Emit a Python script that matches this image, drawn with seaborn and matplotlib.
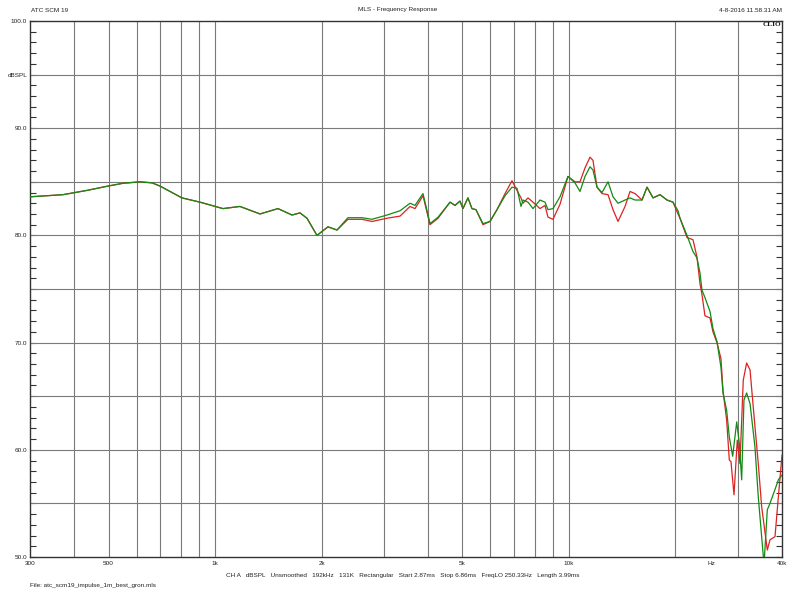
import matplotlib
matplotlib.use('Agg')
import matplotlib.pyplot as plt
import numpy as np
import seaborn as sns
from matplotlib.ticker import FixedLocator, NullLocator

# red trace (Hz, dBSPL)
freq_red = [300, 372, 435, 498, 549, 614, 664, 699, 746, 806, 907, 1053, 1176, 1340, 1506, 1650,
            1738, 1819, 1941,
            2085, 2211, 2374, 2603, 2777, 3061, 3332, 3556, 3673, 3869, 4050, 4267, 4613, 4765,
            4922, 5018, 5184, 5321, 5462, 5716, 5983, 6262, 6598, 6904, 7132, 7320, 7418, 7662,
            7915, 8284, 8558, 8726, 9014, 9435, 9939, 10400, 10746, 11103, 11470, 11694, 12003,
            12402, 12895, 13323, 13764, 14406, 14880, 15372, 16089, 16620, 17283, 18087, 18929,
            19683, 20331, 20598, 21558, 22413, 23000, 23460, 23760, 24230, 25040, 25530, 26200,
            26890, 27250, 27900, 28390, 28700, 29270, 29900, 30430, 31090, 31780, 32490, 33540,
            34280, 35040, 36350, 36990, 38220, 39060, 40000]
db_red = [83.6, 83.8, 84.2, 84.6, 84.86, 85.0, 84.9, 84.6, 84.1, 83.5, 83.1, 82.5, 82.7, 82.0, 82.5,
          81.9, 82.1, 81.6, 80.0,
          80.8, 80.5, 81.5, 81.5, 81.3, 81.6, 81.8, 82.7, 82.5, 83.7, 81.0, 81.6, 83.1, 82.8,
          83.2, 82.5, 83.5, 82.5, 82.4, 81.0, 81.3, 82.4, 83.9, 85.1, 84.2, 83.5, 83.0, 83.5,
          83.1, 82.5, 82.8, 81.7, 81.5, 82.9, 85.5, 85.0, 85.0, 86.3, 87.3, 87.0, 84.5,
          83.9, 83.8, 82.4, 81.3, 82.7, 84.1, 83.9, 83.3, 84.5, 83.5, 83.8, 83.3,
          83.1, 82.0, 81.6, 79.8, 79.6, 78.0, 75.5, 74.5, 72.5, 72.3, 71.0, 70.0,
          68.5, 65.5, 62.8, 59.05, 58.9, 55.8, 60.9, 58.7, 66.5, 68.1, 67.45, 62.2,
          58.7, 54.7, 50.65, 51.6, 51.9, 55.6, 59.5]

# green trace (Hz, dBSPL)
freq_green = [300, 372, 435, 498, 549, 614, 664, 699, 746, 806, 907, 1053, 1176, 1340, 1506, 1650,
              1738, 1819, 1941,
              2085, 2211, 2374, 2603, 2777, 3061, 3332, 3556, 3673, 3869, 4050, 4267, 4613, 4765,
              4922, 5018, 5184, 5321, 5462, 5716, 5983, 6262, 6598, 6904, 7132, 7320, 7418, 7662,
              7915, 8284, 8558, 8726, 9014, 9435, 9939, 10400, 10746, 11103, 11470, 11694, 12003,
              12402, 12895, 13323, 13764, 14406, 14880, 15372, 16089, 16620, 17283, 18087, 18929,
              19683, 20331, 20598, 21558, 22413, 23000, 23460, 23760, 24230, 25040, 25530, 26200,
              26890, 27250, 27900, 28390, 29020, 29790, 30300, 30770, 31230, 31780, 32490, 33540,
              34280, 35040, 35580, 36350, 36990, 38220, 39060, 40000]
db_green = [83.6, 83.8, 84.2, 84.6, 84.86, 85.0, 84.9, 84.6, 84.1, 83.5, 83.1, 82.5, 82.7, 82.0, 82.5,
            81.9, 82.1, 81.6, 80.0,
            80.8, 80.5, 81.65, 81.65, 81.5, 81.9, 82.3, 83.0, 82.8, 83.9, 81.1, 81.7, 83.1, 82.8,
            83.2, 82.5, 83.5, 82.5, 82.4, 81.1, 81.3, 82.4, 83.7, 84.5, 84.4, 82.7, 83.3, 83.1,
            82.5, 83.3, 83.1, 82.4, 82.5, 83.6, 85.5, 84.9, 84.1, 85.5, 86.4, 86.1, 84.5,
            84.0, 85.0, 83.6, 83.0, 83.3, 83.5, 83.3, 83.3, 84.5, 83.5, 83.8, 83.3,
            83.1, 82.3, 81.6, 80.0, 78.5, 77.9, 76.5, 74.9, 74.2, 72.9, 71.3, 70.1,
            67.7, 65.3, 63.7, 61.2, 59.4, 62.6, 60.6, 57.2, 64.65, 65.3, 64.3, 60.3,
            55.6, 51.9, 49.3, 54.4, 55.0, 56.3, 57.2, 57.65]

grid_freqs = [400, 500, 600, 700, 800, 900, 1000, 2000, 3000, 4000, 5000, 6000, 7000, 8000,
              9000, 10000, 20000, 30000]
xtick_vals = [300, 500, 1000, 2000, 5000, 10000, 25200, 40000]
xtick_labels = ['300', '500', '1k', '2k', '5k', '10k', 'Hz', '40k']
ytick_vals = [50, 55, 60, 65, 70, 75, 80, 85, 90, 95, 100]
ytick_labels = ['50.0', '', '60.0', '', '70.0', '', '80.0', '', '90.0', 'dBSPL', '100.0']

sns.set_theme(style='white')
plt.rcParams['font.family'] = ['Liberation Sans', 'DejaVu Sans']
fs = 4.6

fig = plt.figure(figsize=(7.98, 5.99), dpi=100)
fig.patch.set_facecolor('white')
ax = fig.add_axes([30 / 798, 42 / 599, 752 / 798, 536 / 599])
ax.set_facecolor('white')

ax.set_xscale('log')
for f in grid_freqs:
    ax.axvline(f, color='#7a7a7a', lw=0.8, zorder=1)
for v in ytick_vals[1:-1]:
    ax.axhline(v, color='#7a7a7a', lw=0.8, zorder=1)

sns.lineplot(x=freq_red, y=db_red, ax=ax, color='#dd2222', lw=0.9, zorder=3)
sns.lineplot(x=freq_green, y=db_green, ax=ax, color='#138a13', lw=0.9, zorder=4)

ax.set_xlim(300, 40000)
ax.set_ylim(50, 100)
ax.set_xlabel('')
ax.set_ylabel('')

ax.xaxis.set_major_locator(FixedLocator(xtick_vals))
ax.xaxis.set_minor_locator(NullLocator())
ax.set_xticklabels(xtick_labels)
ax.tick_params(axis='x', which='both', length=0, pad=3, labelsize=fs, colors='#222222')

ax.yaxis.set_major_locator(FixedLocator(ytick_vals))
ax.yaxis.set_minor_locator(FixedLocator(np.arange(50, 101, 1)))
ax.set_yticklabels(ytick_labels)
ax.tick_params(axis='y', which='both', direction='in', left=True, right=True,
               length=4, width=0.8, color='#333333', pad=2, labelsize=fs, labelcolor='#222222')

for s in ax.spines.values():
    s.set_color('#333333')
    s.set_linewidth(1.0)

fig.text(31 / 798, 1 - 10 / 599, 'ATC SCM 19', fontsize=fs, ha='left', va='center', color='#222222')
fig.text(398 / 798, 1 - 10 / 599, 'MLS - Frequency Response', fontsize=fs, ha='center', va='center',
         color='#222222')
fig.text(782 / 798, 1 - 10 / 599, '4-8-2016 11.58.31 AM', fontsize=fs, ha='right', va='center',
         color='#222222')
fig.text(781 / 798, 1 - 24 / 599, 'CLIO', fontsize=5.2, ha='right', va='center', fontweight='bold',
         family=['Liberation Serif', 'DejaVu Serif'], color='#111111')
fig.text(226 / 798, 1 - 575 / 599,
         'CH A   dBSPL   Unsmoothed   192kHz   131K   Rectangular   Start 2.87ms   '
         'Stop 6.86ms   FreqLO 250.33Hz   Length 3.99ms',
         fontsize=fs, ha='left', va='center', color='#222222')
fig.text(30 / 798, 1 - 586 / 599, 'File: atc_scm19_impulse_1m_best_gron.mls', fontsize=fs,
         ha='left', va='center', color='#222222')

fig.savefig('out.png', dpi=100, facecolor='white')
